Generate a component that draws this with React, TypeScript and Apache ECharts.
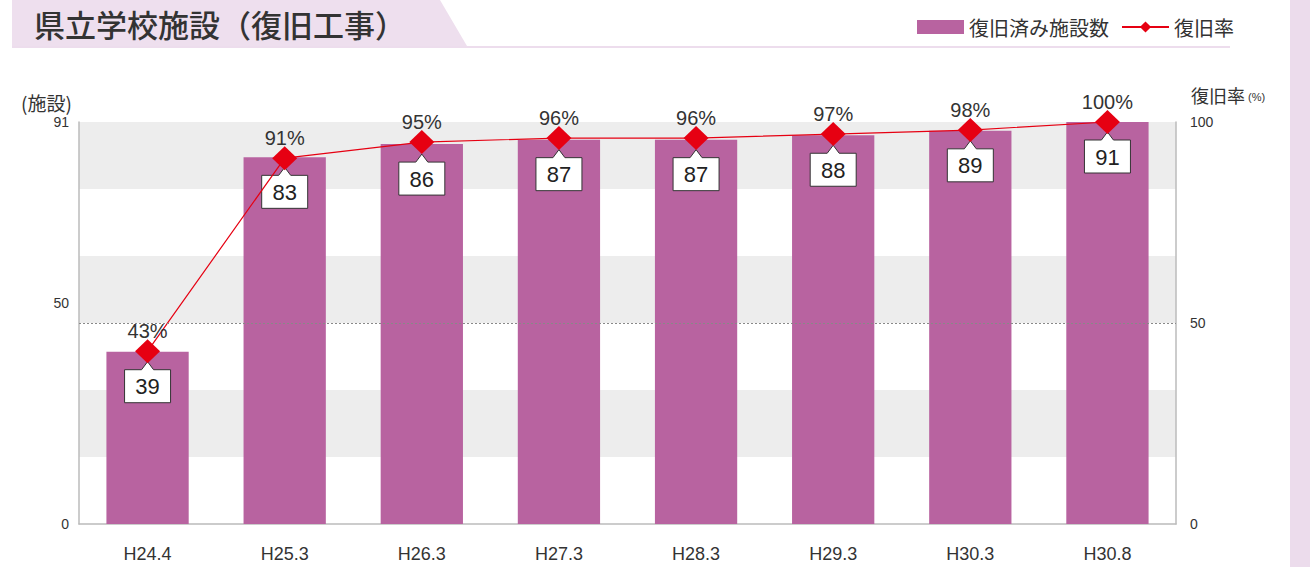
import React, { useEffect, useRef } from "react";
import * as echarts from "echarts";

const categories = ["H24.4", "H25.3", "H26.3", "H27.3", "H28.3", "H29.3", "H30.3", "H30.8"];
const facilityCounts = [39, 83, 86, 87, 87, 88, 89, 91];
const recoveryRates = [43, 91, 95, 96, 96, 97, 98, 100];
const leftTicks = [0, 50, 91];
const bandTicks = [0, 1, 2, 3, 4, 5, 6];

const CJK = '"Noto Sans CJK JP", "Noto Sans", sans-serif';
const NUM = '"Liberation Sans", Arial, "Noto Sans CJK JP", sans-serif';

export default function App() {
  const ref = useRef<HTMLDivElement>(null);
  useEffect(() => {
    if (!ref.current) return;
    const chart = echarts.init(ref.current, null, { renderer: "svg" });
    const option: any = {
      animation: false,
      backgroundColor: "#ffffff",
      grid: { left: 79, right: 134, top: 122, bottom: 43 },
      legend: {
        left: 912,
        top: 12,
        itemWidth: 47,
        itemHeight: 14,
        itemGap: 12,
        textStyle: { fontSize: 20, color: "#333", fontFamily: CJK },
        data: [
          { name: "復旧済み施設数", icon: "rect" },
          { name: "復旧率" },
        ],
      },
      graphic: [
        {
          type: "polygon",
          shape: { points: [[12, 0], [440, 0], [467, 46], [12, 46]] },
          style: { fill: "#eedfee" },
          z: -1,
        },
        {
          type: "rect",
          shape: { x: 12, y: 46, width: 1218, height: 2 },
          style: { fill: "#eddded" },
        },
        {
          type: "rect",
          shape: { x: 1290, y: 0, width: 20, height: 567 },
          style: { fill: "#ecdcec" },
        },
        {
          type: "text",
          x: 34,
          y: 23,
          style: {
            text: "県立学校施設（復旧工事）",
            fontSize: 31,
            fontWeight: 500,
            fontFamily: CJK,
            fill: "#333",
            verticalAlign: "middle",
            textVerticalAlign: "middle",
          },
        },
        {
          type: "text",
          x: 21,
          y: 102,
          style: {
            text: "(施設)",
            fontSize: 19,
            fontFamily: CJK,
            fill: "#333",
            verticalAlign: "middle",
            textVerticalAlign: "middle",
          },
        },
        {
          type: "text",
          x: 1191,
          y: 95,
          style: {
            text: "{a|復旧率}{b|(%)}",
            rich: {
              a: { fontSize: 18, fontFamily: CJK, fill: "#333", color: "#333" },
              b: { fontSize: 11, fontFamily: NUM, fill: "#333", color: "#333", padding: [3, 0, 0, 3] },
            },
            verticalAlign: "middle",
            textVerticalAlign: "middle",
          },
        },
      ],
      xAxis: {
        type: "category",
        data: categories,
        axisLine: { show: true, lineStyle: { color: "#bbb", width: 1.5 } },
        axisTick: { show: false },
        axisLabel: { fontSize: 18, color: "#333", margin: 21, fontFamily: NUM },
      },
      yAxis: [
        {
          type: "value",
          min: 0,
          max: 91,
          position: "left",
          axisLine: { show: true, lineStyle: { color: "#bbb", width: 1.5 } },
          axisTick: { show: false },
          splitLine: { show: false },
          axisLabel: {
            customValues: leftTicks,
            fontSize: 14,
            color: "#333",
            margin: 10,
            fontFamily: NUM,
          },
        },
        {
          type: "value",
          min: 0,
          max: 100,
          interval: 50,
          position: "right",
          axisLine: { show: true, lineStyle: { color: "#bbb", width: 1.5 } },
          axisTick: { show: false },
          splitLine: { show: false },
          axisLabel: { fontSize: 14, color: "#333", margin: 14, fontFamily: NUM, align: "left" },
        },
        {
          type: "value",
          min: bandTicks[0],
          max: bandTicks[bandTicks.length - 1],
          interval: 1,
          position: "left",
          axisLine: { show: false },
          axisTick: { show: false },
          axisLabel: { show: false },
          splitLine: { show: false },
          splitArea: { show: true, areaStyle: { color: ["#ffffff", "#ededed"] } },
        },
      ],
      series: [
        {
          name: "復旧済み施設数",
          type: "bar",
          yAxisIndex: 0,
          data: facilityCounts,
          barWidth: "60%",
          itemStyle: { color: "#b863a0" },
          z: 1,
        },
        {
          name: "復旧率",
          type: "line",
          yAxisIndex: 1,
          data: recoveryRates,
          symbol: "diamond",
          symbolSize: [25, 24],
          lineStyle: { color: "#e60012", width: 1.2 },
          itemStyle: { color: "#e60012" },
          z: 3,
          label: {
            show: true,
            position: "top",
            distance: -2,
            formatter: "{c}%",
            fontSize: 20,
            color: "#333",
            fontFamily: NUM,
          },
          markLine: {
            silent: true,
            symbol: "none",
            label: { show: false },
            lineStyle: { color: "#888", type: [2, 2], width: 1 },
            data: [{ yAxis: 50 }],
          },
        },
        {
          name: "callout",
          type: "custom",
          yAxisIndex: 0,
          data: facilityCounts.map((v, i) => [i, v]),
          encode: { x: 0, y: 1 },
          z: 2,
          renderItem: (params: any, api: any) => {
            const idx = api.value(0);
            const v = api.value(1);
            const p = api.coord([idx, v]);
            const x = p[0];
            const y = p[1];
            return {
              type: "group",
              children: [
                {
                  type: "polygon",
                  shape: {
                    points: [
                      [x, y + 10],
                      [x + 6, y + 18],
                      [x + 23, y + 18],
                      [x + 23, y + 51],
                      [x - 23, y + 51],
                      [x - 23, y + 18],
                      [x - 6, y + 18],
                    ],
                  },
                  style: { fill: "#ffffff", stroke: "#333", lineWidth: 1 },
                },
                {
                  type: "text",
                  x: x,
                  y: y + 35,
                  style: {
                    text: String(v),
                    fontSize: 22,
                    fontFamily: NUM,
                    fill: "#222",
                    align: "center",
                    verticalAlign: "middle",
                    textAlign: "center",
                    textVerticalAlign: "middle",
                  },
                },
              ],
            };
          },
        },
      ],
    };
    chart.setOption(option);
    return () => chart.dispose();
  }, []);
  return (
    <div
      ref={ref}
      style={{ position: "fixed", left: 0, top: 0, width: 1310, height: 567 }}
    />
  );
}
